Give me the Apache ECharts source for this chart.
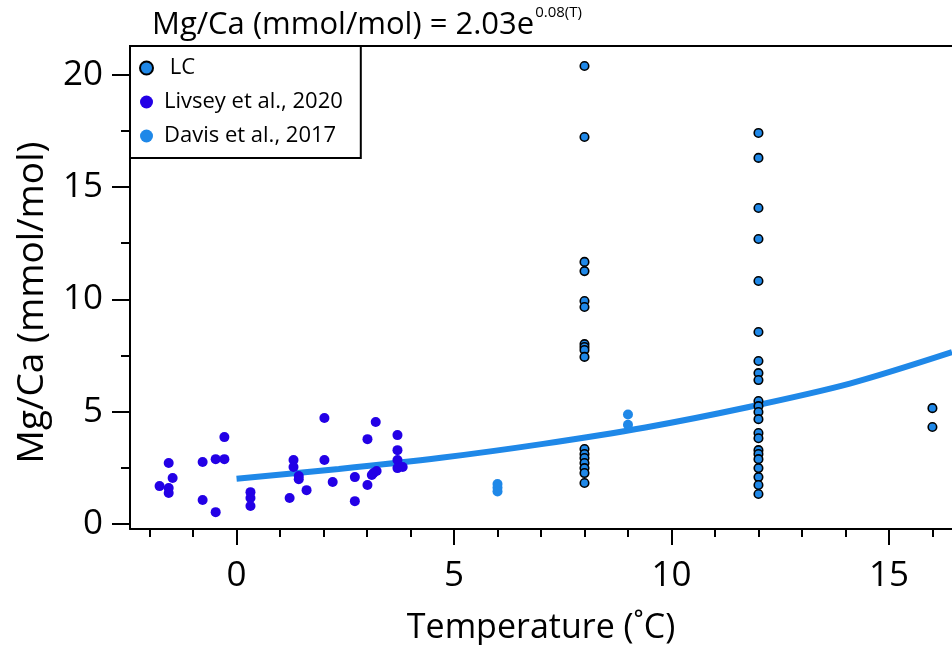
<!DOCTYPE html>
<html>
<head>
<meta charset="utf-8">
<script src="https://cdn.jsdelivr.net/npm/echarts@6/dist/echarts.min.js"></script>
<style>html,body{margin:0;padding:0;background:#fff}#c{width:952px;height:645px}</style>
</head>
<body>
<div id="c"></div>
<script>
// ---- data ----
var lcT = [8,8,8,8,8,8,8,8,8,8,8,8,8,8,8,8,8,
           12,12,12,12,12,12,12,12,12,12,12,12,12,12,12,12,12,12,12,12,12,12,
           16,16];
var lcMg = [20.39,17.23,11.67,11.26,9.93,9.66,8.01,7.88,7.75,7.44,3.34,3.12,2.94,2.72,2.49,2.27,1.83,
            17.41,16.30,14.07,12.69,10.82,8.55,7.26,6.72,6.41,5.48,5.25,4.99,4.67,4.05,3.82,3.29,3.12,2.89,2.49,2.09,1.74,1.34,
            5.16,4.32];
var livseyT = [-1.77,-1.56,-1.56,-1.56,-1.47,-0.78,-0.78,-0.48,-0.48,-0.28,-0.28,0.32,0.32,0.32,
               1.22,1.31,1.31,1.43,1.43,1.61,2.02,2.02,2.21,2.72,2.72,3.01,3.01,3.11,3.15,3.22,3.20,
               3.70,3.70,3.70,3.70,3.82];
var livseyMg = [1.69,2.72,1.60,1.38,2.05,2.76,1.07,2.89,0.53,3.87,2.89,1.42,1.16,0.80,
                1.16,2.85,2.54,2.14,2.00,1.51,4.72,2.85,1.87,2.09,1.02,3.78,1.74,2.18,2.27,2.36,4.54,
                3.96,3.29,2.85,2.49,2.54];
var davisT = [6,6,6,9,9];
var davisMg = [1.78,1.62,1.45,4.88,4.42];
var fitT = [0,2.35,4.7,7.05,9.4,11.75,14.1,16.45];
var fitMg = [2.02,2.45,2.95,3.57,4.3,5.2,6.25,7.65];
var xMajor = [0,5,10,15];
var xMinor = [-2,-1,0,1,2,3,4,5,6,7,8,9,10,11,12,13,14,15,16];
var yMajor = [0,5,10,15,20];
var yMinor = [2.5,7.5,12.5,17.5];

function pairs(a,b){return a.map(function(v,i){return [v,b[i]];});}

var FONT = 'Open Sans';
var LIGHT = '#1f88e8';
var DARK = '#2300e6';
var chart = echarts.init(document.getElementById('c'), null, {renderer:'canvas'});
var axisLineStyle = {color:'#000', width:2};

var option = {
  backgroundColor:'#fff',
  animation:false,
  title:{
    left:147, top:0,
    text:'{a|Mg/Ca (mmol/mol) = 2.03e}{b|0.08(T)}',
    textStyle:{
      fontWeight:'normal',
      rich:{
        a:{fontFamily:FONT, fontSize:31, fontWeight:'normal', color:'#000', lineHeight:40},
        b:{fontFamily:FONT, fontSize:15, fontWeight:'normal', color:'#000', verticalAlign:'top', lineHeight:40, padding:[0,0,16,1]}
      }
    }
  },
  grid:{left:130, right:0, top:46, bottom:116, containLabel:false, outerBoundsMode:'none'},
  legend:{
    left:130, top:46, orient:'vertical',
    backgroundColor:'#fff', borderColor:'#000', borderWidth:2,
    padding:[10,18,10,9], itemGap:10, itemWidth:13, itemHeight:13,
    textStyle:{fontFamily:FONT, fontSize:22, color:'#000', lineHeight:24, padding:[0,0,0,6]},
    data:[{name:' LC', icon:'circle'},{name:'Livsey et al., 2020', icon:'circle'},{name:'Davis et al., 2017', icon:'circle'}],
    z:20
  },
  xAxis:[
    {type:'value', min:-2.45, max:16.45, position:'bottom',
     name:'Temperature (˚C)', nameLocation:'middle', nameGap:82,
     nameTextStyle:{fontFamily:FONT, fontSize:34, color:'#000'},
     axisLine:{show:true, onZero:false, lineStyle:axisLineStyle},
     axisTick:{show:true, inside:false, length:8, lineStyle:{color:'#000', width:2}, customValues:xMinor},
     axisLabel:{show:true, fontFamily:FONT, fontSize:35, color:'#000', margin:30, customValues:xMajor},
     splitLine:{show:false}},
    {type:'value', min:-2.45, max:16.45, position:'bottom',
     axisLine:{show:false, onZero:false},
     axisTick:{show:true, inside:false, length:16, lineStyle:{color:'#000', width:2}, customValues:xMajor},
     axisLabel:{show:false}, splitLine:{show:false}},
    {type:'value', min:-2.45, max:16.45, position:'top',
     axisLine:{show:true, onZero:false, lineStyle:axisLineStyle},
     axisTick:{show:false}, axisLabel:{show:false}, splitLine:{show:false}}
  ],
  yAxis:[
    {type:'value', min:-0.22, max:21.28, position:'left',
     name:'Mg/Ca (mmol/mol)', nameLocation:'middle', nameGap:79, nameRotate:90,
     nameTextStyle:{fontFamily:FONT, fontSize:37, color:'#000', padding:[0,30,0,0]},
     axisLine:{show:true, onZero:false, lineStyle:axisLineStyle},
     axisTick:{show:true, inside:false, length:18, lineStyle:{color:'#000', width:2}, customValues:yMajor},
     axisLabel:{show:true, fontFamily:FONT, fontSize:35, color:'#000', margin:27, customValues:yMajor},
     splitLine:{show:false}},
    {type:'value', min:-0.22, max:21.28, position:'left',
     axisLine:{show:false, onZero:false},
     axisTick:{show:true, inside:false, length:9, lineStyle:{color:'#000', width:2}, customValues:yMinor},
     axisLabel:{show:false}, splitLine:{show:false}}
  ],
  series:[
    {name:'fit', type:'line', xAxisIndex:0, yAxisIndex:0, data:pairs(fitT,fitMg),
     smooth:0.3, showSymbol:false, symbol:'none', lineStyle:{color:LIGHT, width:6}, z:2, legendHoverLink:false},
    {name:' LC', type:'scatter', data:pairs(lcT,lcMg), symbol:'circle', symbolSize:8.5,
     itemStyle:{color:LIGHT, borderColor:'#000', borderWidth:1.6, opacity:1}, z:4},
    {name:'Livsey et al., 2020', type:'scatter', data:pairs(livseyT,livseyMg), symbol:'circle', symbolSize:10,
     itemStyle:{color:DARK, opacity:1}, z:3},
    {name:'Davis et al., 2017', type:'scatter', data:pairs(davisT,davisMg), symbol:'circle', symbolSize:10,
     itemStyle:{color:LIGHT, opacity:1}, z:3}
  ]
};
chart.setOption(option);
</script>
</body>
</html>
